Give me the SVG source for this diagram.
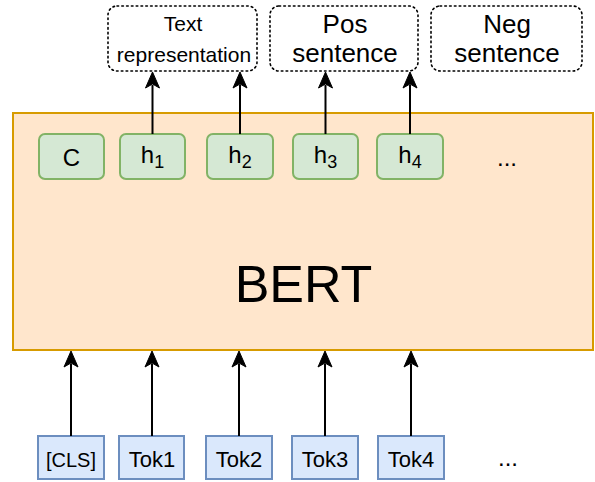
<svg xmlns="http://www.w3.org/2000/svg" width="595" height="482" viewBox="0 0 595 482">
<defs>
<marker id="arr" markerUnits="userSpaceOnUse" markerWidth="16" markerHeight="16" refX="3" refY="8" orient="auto" viewBox="0 0 16 16" overflow="visible">
<path d="M16 8 L0 1 L4 8 L0 15 Z" fill="#000" stroke="#000" stroke-width="1" stroke-linejoin="miter"/>
</marker>
<style>
text{font-family:"Liberation Sans",Arial,sans-serif;fill:#000;text-anchor:middle}
.out{fill:#fff;stroke:#000;stroke-width:1.6;stroke-dasharray:1.6 3.2;stroke-linecap:round}
.h{fill:#d5e8d4;stroke:#82b366;stroke-width:2}
.tok{fill:#dae8fc;stroke:#6c8ebf;stroke-width:2}
.con{stroke:#000;stroke-width:2;fill:none}
</style>
</defs>
<g id="bert">
<rect x="13" y="113" width="580" height="237" fill="#ffe6cc" stroke="#d79b00" stroke-width="2"/>
<text x="303.5" y="302" font-size="52">BERT</text>
</g>
<g id="out-text"><rect class="out" x="108" y="6" width="149" height="65" rx="9"/><text x="183" y="31" font-size="21">Text</text><text x="184" y="62" font-size="21">representation</text></g>
<g id="out-pos"><rect class="out" x="270" y="6" width="148" height="65" rx="9"/><text x="345" y="33" font-size="26">Pos</text><text x="345" y="62" font-size="26">sentence</text></g>
<g id="out-neg"><rect class="out" x="431" y="6" width="151" height="65" rx="9"/><text x="507" y="33" font-size="26">Neg</text><text x="507" y="62" font-size="26">sentence</text></g>
<g id="h-c"><rect class="h" x="39" y="134" width="65" height="45" rx="6"/><text x="71.5" y="166" font-size="24">C</text></g>
<g id="h-1"><rect class="h" x="120" y="134" width="65" height="45" rx="6"/><text x="152.5" y="163" font-size="24">h<tspan font-size="18" dy="5">1</tspan></text></g>
<g id="h-2"><rect class="h" x="207" y="134" width="66" height="45" rx="6"/><text x="240" y="163" font-size="24">h<tspan font-size="18" dy="5">2</tspan></text></g>
<g id="h-3"><rect class="h" x="293" y="134" width="65" height="45" rx="6"/><text x="325.5" y="163" font-size="24">h<tspan font-size="18" dy="5">3</tspan></text></g>
<g id="h-4"><rect class="h" x="377" y="134" width="66" height="45" rx="6"/><text x="410" y="163" font-size="24">h<tspan font-size="18" dy="5">4</tspan></text></g>
<g id="h-dots"><text x="507" y="166" font-size="24">...</text></g>
<g id="tok-cls"><rect class="tok" x="38" y="436" width="66" height="43"/><text x="71" y="467" font-size="20">[CLS]</text></g>
<g id="tok-1"><rect class="tok" x="119" y="436" width="65" height="43"/><text x="152" y="467" font-size="22">Tok1</text></g>
<g id="tok-2"><rect class="tok" x="206" y="436" width="66" height="43"/><text x="239" y="467" font-size="22">Tok2</text></g>
<g id="tok-3"><rect class="tok" x="292" y="436" width="66" height="43"/><text x="325" y="467" font-size="22">Tok3</text></g>
<g id="tok-4"><rect class="tok" x="378" y="436" width="66" height="43"/><text x="411" y="467" font-size="22">Tok4</text></g>
<g id="tok-dots"><text x="508" y="466" font-size="24">...</text></g>
<g id="connectors">
<path class="con" d="M152.5 134 V85" marker-end="url(#arr)"/>
<path class="con" d="M240 134 V85" marker-end="url(#arr)"/>
<path class="con" d="M325.5 134 V85" marker-end="url(#arr)"/>
<path class="con" d="M410 134 V85" marker-end="url(#arr)"/>
<path class="con" d="M71 436 V364" marker-end="url(#arr)"/>
<path class="con" d="M152 436 V364" marker-end="url(#arr)"/>
<path class="con" d="M239 436 V364" marker-end="url(#arr)"/>
<path class="con" d="M325 436 V364" marker-end="url(#arr)"/>
<path class="con" d="M411 436 V364" marker-end="url(#arr)"/>
</g>
</svg>
